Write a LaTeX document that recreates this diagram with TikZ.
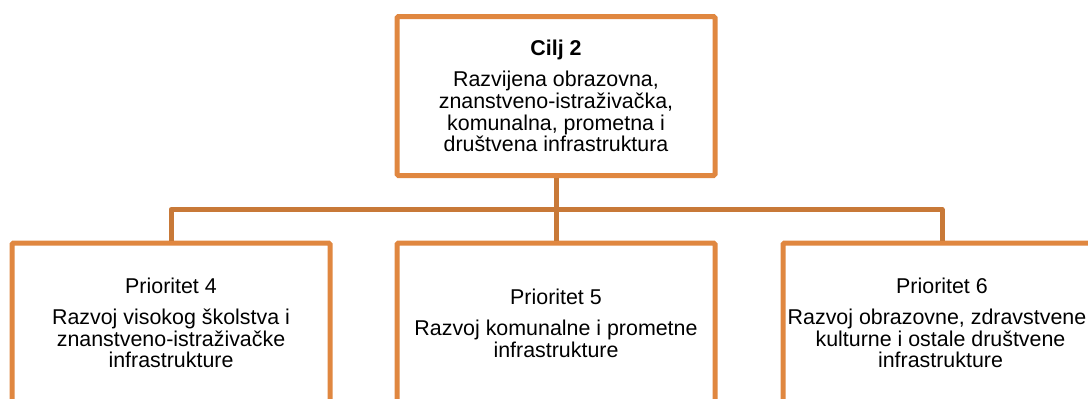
\documentclass[tikz,border=0pt]{standalone}
\usepackage{fontspec}
\setmainfont{Liberation Sans}
\begin{document}
\begin{tikzpicture}[x=1pt,y=-1pt,
  boxc/.style={draw=boxorange, line width=5pt, fill=white, rounded corners=1.5pt,
    minimum width=318pt, inner sep=0pt, align=center,
    font=\fontsize{21.4}{21.7}\selectfont},
  link/.style={draw=linkorange, line width=5pt, line join=round}]
\definecolor{boxorange}{RGB}{224,135,64}
\definecolor{linkorange}{RGB}{200,121,56}
\useasboundingbox (0,0) rectangle (1088,399);
\clip (0,0) rectangle (1088,399);
\node[boxc, minimum height=159pt] (top) at (556,96)
  {\textbf{Cilj 2}\\[9.5pt]Razvijena obrazovna,\\znanstveno-istraživačka,\\komunalna, prometna i\\društvena infrastruktura};
\node[boxc, minimum height=160pt] (p4) at (171,323)
  {Prioritet 4\\[9.5pt]Razvoj visokog školstva i\\znanstveno-istraživačke\\infrastrukture};
\node[boxc, minimum height=160pt] (p5) at (556,323)
  {Prioritet 5\\[9.5pt]Razvoj komunalne i prometne\\infrastrukture};
\node[boxc, minimum height=160pt] (p6) at (942,323)
  {Prioritet 6\\[9.5pt]Razvoj obrazovne, zdravstvene\rule{10pt}{0pt}\\kulturne i ostale društvene\rule{3pt}{0pt}\\infrastrukture\rule{3pt}{0pt}};
\coordinate (bus) at (556,209.5);
\draw[link] (top.south) -- (bus);
\draw[link] (bus) -| (p4.north);
\draw[link] (bus) -| (p6.north);
\draw[link] (bus) -- (p5.north);
\end{tikzpicture}
\end{document}
